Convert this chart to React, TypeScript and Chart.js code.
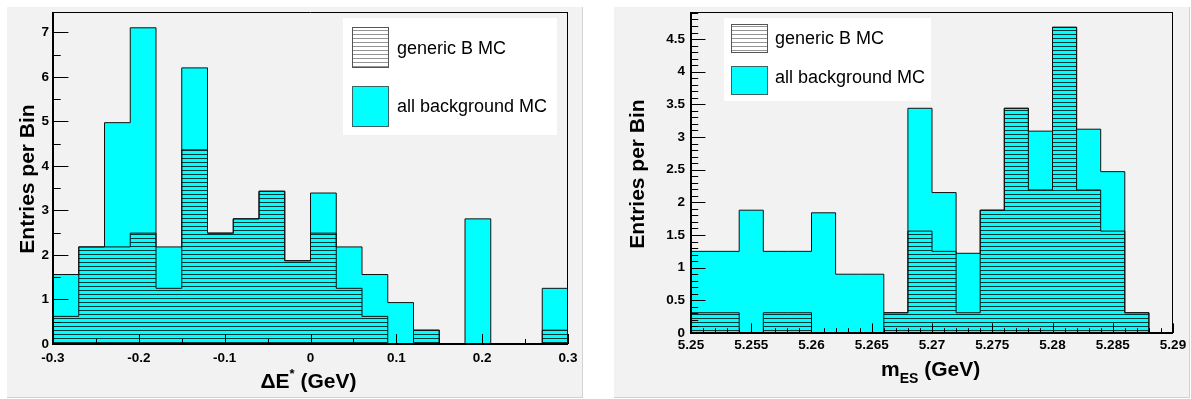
import React, { useEffect, useRef } from "react";
import { Chart, registerables } from "chart.js";

Chart.register(...registerables);

const FONT = '"Liberation Sans", Arial, Helvetica, sans-serif';
const PANEL_BG = "#f2f2f2";
const CYAN = "#00ffff";

const seriesLabels = ["generic B MC", "all background MC"];
const yAxisTitle = "Entries per Bin";

// ΔE* : 20 bins on [-0.3, 0.3] GeV
const deRange = [-0.3, 0.3];
const deAllBackground = [1.56, 2.18, 4.97, 7.1, 2.18, 6.2, 2.49, 2.81, 3.43, 1.87, 3.39, 2.18, 1.56, 0.93, 0.31, 0, 2.81, 0, 0, 1.25];
const deGenericB = [0.62, 2.18, 2.18, 2.49, 1.25, 4.36, 2.49, 2.81, 3.43, 1.87, 2.49, 1.25, 0.62, 0, 0.31, 0, 0, 0, 0, 0.31];
const deXTicks = [-0.3, -0.2, -0.1, 0, 0.1, 0.2, 0.3];
const deYTicks = [0, 1, 2, 3, 4, 5, 6, 7];

// m_ES : 20 bins on [5.25, 5.29] GeV
const mesRange = [5.25, 5.29];
const mesAllBackground = [1.25, 1.25, 1.88, 1.25, 1.25, 1.84, 0.9, 0.9, 0.31, 3.44, 2.15, 1.22, 1.88, 3.44, 3.09, 4.68, 3.12, 2.47, 0.31, 0];
const mesGenericB = [0.31, 0.31, 0, 0.31, 0.31, 0, 0, 0, 0.31, 1.56, 1.25, 0.31, 1.88, 3.44, 2.19, 4.68, 2.19, 1.56, 0.31, 0];
const mesXTicks = [5.25, 5.255, 5.26, 5.265, 5.27, 5.275, 5.28, 5.285, 5.29];
const mesYTicks = [0, 0.5, 1, 1.5, 2, 2.5, 3, 3.5, 4, 4.5];

type TitlePiece = { text: string; size: number; dy: number };

interface PanelSpec {
  left: number;
  range: number[];
  allBackground: number[];
  genericB: number[];
  xTicks: number[];
  yTicks: number[];
  xMinorStep: number;
  yMinorStep: number;
  yAxisWidth: number;
  xAxisHeight: number;
  padTop: number;
  padRight: number;
  xLabelPad: number;
  yLabelPad: number;
  legend: {
    x: number; y: number; w: number; h: number;
    swatchX: number; swatchW: number; textX: number;
    rows: { top: number; h: number; textY: number }[];
  };
  yTitle: { x: number; y: number };
  xTitle: { pieces: TitlePiece[]; baseline: number; dx: number };
}

const deSpec: PanelSpec = {
  left: 7,
  range: deRange,
  allBackground: deAllBackground,
  genericB: deGenericB,
  xTicks: deXTicks,
  yTicks: deYTicks,
  xMinorStep: 0.05,
  yMinorStep: 0.5,
  yAxisWidth: 46,
  xAxisHeight: 54,
  padTop: 5,
  padRight: 15,
  xLabelPad: 6,
  yLabelPad: 4,
  legend: {
    x: 336, y: 11, w: 214, h: 117,
    swatchX: 345, swatchW: 37, textX: 390,
    rows: [
      { top: 20, h: 41, textY: 42 },
      { top: 79, h: 41, textY: 100.5 },
    ],
  },
  yTitle: { x: 26.5, y: 172 },
  xTitle: {
    pieces: [
      { text: "ΔE", size: 21, dy: 0 },
      { text: "*", size: 13, dy: -10 },
      { text: " (GeV)", size: 21, dy: 0 },
    ],
    baseline: 380.5,
    dx: -2,
  },
};

const mesSpec: PanelSpec = {
  left: 614,
  range: mesRange,
  allBackground: mesAllBackground,
  genericB: mesGenericB,
  xTicks: mesXTicks,
  yTicks: mesYTicks,
  xMinorStep: 0.001,
  yMinorStep: 0.1,
  yAxisWidth: 77,
  xAxisHeight: 65,
  padTop: 5,
  padRight: 17,
  xLabelPad: 4,
  yLabelPad: 6,
  legend: {
    x: 110, y: 11, w: 207, h: 83,
    swatchX: 117, swatchW: 37, textX: 161,
    rows: [
      { top: 17, h: 29, textY: 32.2 },
      { top: 59, h: 29, textY: 71.3 },
    ],
  },
  yTitle: { x: 29.5, y: 167 },
  xTitle: {
    pieces: [
      { text: "m", size: 21, dy: 0 },
      { text: "ES", size: 14, dy: 7 },
      { text: " (GeV)", size: 21, dy: 0 },
    ],
    baseline: 368.6,
    dx: -1.4,
  },
};

// Histogram outline as step points: one point per bin low edge, closed to zero at both ends
function stepPoints(values: number[], range: number[]) {
  const [lo, hi] = range;
  const w = (hi - lo) / values.length;
  const pts = [{ x: lo, y: 0 }];
  values.forEach((v, i) => pts.push({ x: lo + i * w, y: v }));
  pts.push({ x: hi, y: 0 });
  return pts;
}

function hatchPattern(lineColor: string, bg: string | null) {
  const c = document.createElement("canvas");
  c.width = 8;
  c.height = 4;
  const g = c.getContext("2d")!;
  if (bg) {
    g.fillStyle = bg;
    g.fillRect(0, 0, 8, 4);
  }
  g.fillStyle = lineColor;
  g.fillRect(0, 3, 8, 1);
  return g.createPattern(c, "repeat")!;
}

const fmtTick = (v: number) => String(parseFloat(Number(v).toFixed(4)));

function drawTitlePieces(ctx: CanvasRenderingContext2D, pieces: TitlePiece[], cx: number, baseline: number) {
  let total = 0;
  const widths = pieces.map((p) => {
    ctx.font = `bold ${p.size}px ${FONT}`;
    const w = ctx.measureText(p.text).width;
    total += w;
    return w;
  });
  let x = cx - total / 2;
  ctx.textAlign = "left";
  ctx.textBaseline = "alphabetic";
  pieces.forEach((p, i) => {
    ctx.font = `bold ${p.size}px ${FONT}`;
    ctx.fillText(p.text, x, baseline + p.dy);
    x += widths[i];
  });
}

function makeDecorPlugin(spec: PanelSpec, legendHatch: CanvasPattern) {
  return {
    id: "histDecor",
    beforeDraw(chart: any) {
      const { ctx, width, height } = chart;
      ctx.save();
      ctx.fillStyle = PANEL_BG;
      ctx.fillRect(0, 0, width, height);
      ctx.fillStyle = "#d2d2d2";
      ctx.fillRect(width - 1, 0, 1, height);
      ctx.fillRect(0, height - 1, width, 1);
      ctx.restore();
    },
    afterDatasetsDraw(chart: any) {
      const { ctx, chartArea: a, scales } = chart;
      const xs = scales.x;
      const ys = scales.y;
      const w = a.right - a.left;
      const h = a.bottom - a.top;
      const yLen = 0.03 * w;
      const xLen = 0.03 * h;
      ctx.save();
      ctx.strokeStyle = "#000";
      ctx.lineWidth = 1;
      ctx.beginPath();
      const ny = Math.floor((ys.max - ys.min) / spec.yMinorStep + 1e-6);
      for (let i = 0; i <= ny; i++) {
        const v = ys.min + i * spec.yMinorStep;
        const major = spec.yTicks.some((m) => Math.abs(m - v) < spec.yMinorStep * 1e-3);
        const py = Math.round(ys.getPixelForValue(v)) + 0.5;
        ctx.moveTo(a.left, py);
        ctx.lineTo(a.left + (major ? yLen : yLen / 2), py);
      }
      const nx = Math.round((xs.max - xs.min) / spec.xMinorStep);
      for (let i = 0; i <= nx; i++) {
        const v = xs.min + i * spec.xMinorStep;
        const major = spec.xTicks.some((m) => Math.abs(m - v) < spec.xMinorStep * 1e-3);
        const px = Math.round(xs.getPixelForValue(v)) + 0.5;
        ctx.moveTo(px, a.bottom);
        ctx.lineTo(px, a.bottom - (major ? xLen : xLen / 2));
      }
      // frame top and right
      ctx.moveTo(a.left, Math.round(a.top) + 0.5);
      ctx.lineTo(a.right, Math.round(a.top) + 0.5);
      ctx.moveTo(Math.round(a.right) - 0.5, a.top);
      ctx.lineTo(Math.round(a.right) - 0.5, a.bottom);
      ctx.stroke();
      // axis lines
      ctx.fillStyle = "#000";
      ctx.fillRect(Math.round(a.left) - 1, a.top, 2, h + 1);
      ctx.fillRect(Math.round(a.left) - 1, Math.round(a.bottom) - 1, w + 1, 2);
      ctx.restore();
    },
    afterDraw(chart: any) {
      const { ctx, chartArea: a } = chart;
      const L = spec.legend;
      ctx.save();
      // legend box
      ctx.fillStyle = "#ffffff";
      ctx.fillRect(L.x, L.y, L.w, L.h);
      const metas = chart.data.datasets;
      metas.forEach((ds: any, i: number) => {
        const r = L.rows[i];
        if (i === 0) {
          ctx.fillStyle = "#ffffff";
          ctx.fillRect(L.swatchX, r.top, L.swatchW, r.h);
          ctx.fillStyle = legendHatch;
          ctx.fillRect(L.swatchX, r.top, L.swatchW, r.h);
          ctx.strokeStyle = "#555";
        } else {
          ctx.fillStyle = ds.backgroundColor;
          ctx.fillRect(L.swatchX, r.top, L.swatchW, r.h);
          ctx.strokeStyle = "#3a6464";
        }
        ctx.lineWidth = 1;
        ctx.strokeRect(L.swatchX + 0.5, r.top + 0.5, L.swatchW - 1, r.h - 1);
        ctx.fillStyle = "#000";
        ctx.font = `18px ${FONT}`;
        ctx.textAlign = "left";
        ctx.textBaseline = "middle";
        ctx.fillText(ds.label, L.textX, r.textY);
      });
      // axis titles
      ctx.fillStyle = "#000";
      ctx.save();
      ctx.translate(spec.yTitle.x, spec.yTitle.y);
      ctx.rotate(-Math.PI / 2);
      ctx.font = `bold 21px ${FONT}`;
      ctx.textAlign = "center";
      ctx.textBaseline = "alphabetic";
      ctx.fillText(yAxisTitle, 0, 0);
      ctx.restore();
      drawTitlePieces(ctx, spec.xTitle.pieces, (a.left + a.right) / 2 + spec.xTitle.dx, spec.xTitle.baseline);
      ctx.restore();
    },
  };
}

function HistogramPanel({ spec }: { spec: PanelSpec }) {
  const ref = useRef<HTMLCanvasElement>(null);
  useEffect(() => {
    const canvas = ref.current;
    if (!canvas) return;
    const hatch = hatchPattern("rgba(0,0,0,0.78)", null);
    const legendHatch = hatchPattern("rgba(0,0,0,0.42)", null);
    const yMax = Math.max(...spec.allBackground) * 1.05;
    const tickFont = { family: FONT, size: 13.5, weight: "bold" as const };
    const chart = new Chart(canvas, {
      type: "line",
      data: {
        datasets: [
          {
            label: seriesLabels[0],
            data: stepPoints(spec.genericB, spec.range),
            stepped: true,
            fill: "origin",
            backgroundColor: hatch,
            borderColor: "#111",
            borderWidth: 1,
            pointRadius: 0,
          },
          {
            label: seriesLabels[1],
            data: stepPoints(spec.allBackground, spec.range),
            stepped: true,
            fill: "origin",
            backgroundColor: CYAN,
            borderColor: "#111",
            borderWidth: 1,
            pointRadius: 0,
          },
        ],
      },
      options: {
        animation: false,
        responsive: false,
        devicePixelRatio: 1,
        events: [],
        layout: { padding: { top: spec.padTop, right: spec.padRight, left: 0, bottom: 0 } },
        plugins: {
          legend: { display: false },
          tooltip: { enabled: false },
          title: { display: false },
        },
        scales: {
          x: {
            type: "linear",
            min: spec.range[0],
            max: spec.range[1],
            grid: { display: false, drawTicks: false },
            border: { display: false },
            ticks: {
              font: tickFont,
              color: "#000",
              padding: spec.xLabelPad,
              maxRotation: 0,
              autoSkip: false,
              includeBounds: false,
              callback: (v: any) => fmtTick(v),
            },
            afterBuildTicks: (scale: any) => {
              scale.ticks = spec.xTicks.map((v) => ({ value: v }));
            },
            afterFit: (scale: any) => {
              scale.height = spec.xAxisHeight;
              scale.paddingLeft = 0;
              scale.paddingRight = 0;
            },
          },
          y: {
            type: "linear",
            min: 0,
            max: yMax,
            grid: { display: false, drawTicks: false },
            border: { display: false },
            ticks: {
              font: tickFont,
              color: "#000",
              padding: spec.yLabelPad,
              autoSkip: false,
              includeBounds: false,
              callback: (v: any) => fmtTick(v),
            },
            afterBuildTicks: (scale: any) => {
              scale.ticks = spec.yTicks.map((v) => ({ value: v }));
            },
            afterFit: (scale: any) => {
              scale.width = spec.yAxisWidth;
              scale.paddingTop = 0;
              scale.paddingBottom = 0;
            },
          },
        },
      },
      plugins: [makeDecorPlugin(spec, legendHatch)],
    } as any);
    return () => chart.destroy();
  }, [spec]);
  return (
    <canvas
      ref={ref}
      width={576}
      height={391}
      style={{ position: "absolute", left: spec.left, top: 7, width: 576, height: 391 }}
    />
  );
}

export default function App() {
  return (
    <div>
      <HistogramPanel spec={deSpec} />
      <HistogramPanel spec={mesSpec} />
    </div>
  );
}
